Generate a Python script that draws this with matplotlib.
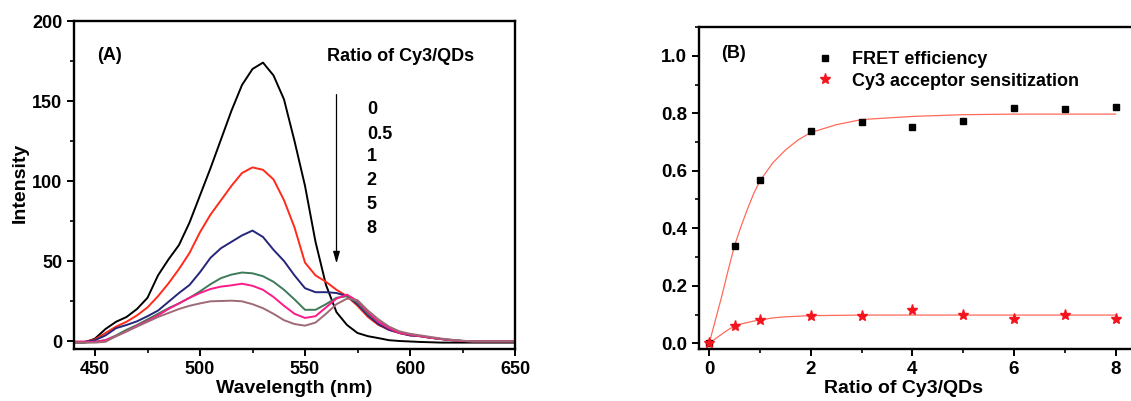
import numpy as np
import matplotlib
matplotlib.use("Agg")
import matplotlib.pyplot as plt
from matplotlib.ticker import MultipleLocator

plt.rcParams['font.family'] = ['Liberation Sans', 'DejaVu Sans']
plt.rcParams['font.weight'] = 'bold'

# ---- panel A: emission spectra (5 nm steps) ----
wavelength = list(range(440, 655, 5))

ratio_0 = [-1, -1, 1.5, 7.5, 12, 15, 20, 27, 41, 51, 60, 74, 91, 108, 126, 144, 160, 170,
           174, 166, 151, 125, 97, 62, 35, 18, 10, 5, 3, 1.8, 0.5, 0, -0.3, -0.6, -0.8,
           -1, -1, -1, -1, -1, -1, -1, -1]
ratio_05 = [-0.5, -0.5, 1, 5, 9, 12, 16, 21, 28, 36, 45, 55, 68, 79, 88, 97, 105, 108.5,
            107, 101, 88, 71, 49, 41, 37, 32, 28, 22, 15, 10, 7, 5, 3.5, 3, 2, 1.2, 0.5,
            0, -0.2, -0.2, -0.2, -0.2, -0.2]
ratio_1 = [-0.5, -0.5, 0.5, 3.5, 8, 10, 12.3, 15.5, 19, 24.5, 30, 35, 43, 52, 58, 62, 66,
           69, 65, 57, 50, 41, 33, 30.5, 30.5, 30, 28, 23, 16, 10.5, 7, 5, 3.5, 3, 2,
           1.2, 0.5, 0, -0.2, -0.2, -0.2, -0.2, -0.2]
ratio_2 = [-0.5, -1, -0.5, 0.5, 3.5, 7, 10, 13.5, 17, 20.5, 23.5, 27, 31, 35.5, 39.3,
           41.5, 42.8, 42.3, 40.5, 37, 32, 26, 19.5, 19.5, 23, 27, 28, 24, 17, 12, 8, 5,
           4, 3, 2, 1.2, 0.5, 0, -0.2, -0.2, -0.2, -0.2, -0.2]
ratio_5 = [-0.5, -0.5, -0.5, 0.5, 3, 6, 9.5, 12.5, 16, 20, 23.5, 27, 30, 32.5, 34, 34.8,
           35.8, 34.5, 32, 27.5, 22, 17, 14.4, 15.5, 21, 26.5, 29, 25, 18, 12, 8, 5, 4,
           3, 2, 1.2, 0.5, 0, -0.2, -0.2, -0.2, -0.2, -0.2]
ratio_8 = [-1, -1, -1, -0.5, 3, 6, 9, 12, 15, 17.5, 20, 22, 23.5, 24.8, 25, 25.2, 24.8,
           23, 20.5, 17, 13, 10.6, 9.6, 11.5, 17, 23, 26.5, 25.5, 19, 13.5, 9, 6, 4.5,
           3.5, 2.5, 1.5, 0.8, 0.2, -0.2, -0.2, -0.2, -0.2, -0.2]

spectra = [ratio_0, ratio_05, ratio_1, ratio_2, ratio_5, ratio_8]
spec_colors = ['black', '#ff2a1a', '#25257a', '#3e7a5a', '#ff1a8a', '#9e6a75']
ratio_labels = ['0', '0.5', '1', '2', '5', '8']

# ---- panel B: efficiency vs ratio ----
ratio = [0, 0.5, 1, 2, 3, 4, 5, 6, 7, 8]
fret_eff = [0.0, 0.338, 0.567, 0.737, 0.769, 0.751, 0.774, 0.819, 0.815, 0.821]
cy3_sens = [0.0, 0.060, 0.081, 0.096, 0.095, 0.117, 0.098, 0.086, 0.098, 0.086]

# fitted curves
fit_x = [0, 0.125, 0.25, 0.375, 0.5, 0.625, 0.75, 0.875, 1, 1.25, 1.5, 1.75, 2, 2.5,
         3, 4, 5, 6, 7, 8]
fret_fit = [0, 0.082, 0.165, 0.255, 0.34, 0.405, 0.465, 0.52, 0.565, 0.627, 0.672,
            0.707, 0.733, 0.76, 0.778, 0.789, 0.795, 0.797, 0.797, 0.797]
cy3_fit = [0, 0.016, 0.032, 0.047, 0.06, 0.067, 0.072, 0.077, 0.081, 0.088, 0.092,
           0.094, 0.096, 0.097, 0.098, 0.098, 0.098, 0.098, 0.098, 0.098]

W, H = 1131, 401
fig = plt.figure(figsize=(W / 100, H / 100), dpi=100)
axA = fig.add_axes([74 / W, 1 - 349 / H, (515 - 74) / W, (349 - 21) / H])
axB = fig.add_axes([699 / W, 1 - 349 / H, (1141 - 699) / W, (349 - 27) / H])

for ax in (axA, axB):
    for s in ax.spines.values():
        s.set_linewidth(1.7)
    ax.tick_params(which='major', direction='out', length=5, width=1.4, pad=3.5,
                   top=False, right=False)
    ax.tick_params(which='minor', direction='out', length=3, width=1.2,
                   top=False, right=False)

# panel A
for ys, c in zip(spectra, spec_colors):
    axA.plot(wavelength, ys, color=c, lw=1.4)
axA.set_xlim(440, 650)
axA.set_ylim(-5, 200)
axA.xaxis.set_major_locator(MultipleLocator(50))
axA.xaxis.set_minor_locator(MultipleLocator(25))
axA.yaxis.set_major_locator(MultipleLocator(50))
axA.yaxis.set_minor_locator(MultipleLocator(25))
axA.tick_params(labelsize=13)
axA.set_xlabel('Wavelength (nm)', fontsize=14, fontweight='bold')
axA.set_ylabel('Intensity', fontsize=14, fontweight='bold')
axA.xaxis.set_label_coords(0.5, -0.095)
axA.yaxis.set_label_coords(-0.103, 0.506)

axA.text(0.052, 0.896, '(A)', transform=axA.transAxes, fontsize=13,
         fontweight='bold', va='center', ha='left')
axA.text(0.574, 0.891, 'Ratio of Cy3/QDs', transform=axA.transAxes, fontsize=13,
         fontweight='bold', va='center', ha='left')
label_y = [0.729, 0.655, 0.586, 0.513, 0.442, 0.368]
for lab, yy in zip(ratio_labels, label_y):
    axA.text(0.664, yy, lab, transform=axA.transAxes, fontsize=13,
             fontweight='bold', va='center', ha='left')
axA.annotate('', xy=(565, 48.5), xytext=(565, 154),
             arrowprops=dict(arrowstyle='-|>,head_length=0.7,head_width=0.2',
                             color='black', lw=0.9, mutation_scale=10,
                             shrinkA=0, shrinkB=0))

# panel B
axB.plot(fit_x, fret_fit, color='#ff6a5a', lw=0.9)
axB.plot(fit_x, cy3_fit, color='#ff6a5a', lw=0.9)
axB.plot(ratio, fret_eff, 's', color='black', ms=5, label='FRET efficiency')
axB.plot(ratio, cy3_sens, '*', color='#f5141e', ms=8,
         label='Cy3 acceptor sensitization')
axB.set_xlim(-0.2, 8.5)
axB.set_ylim(-0.02, 1.1)
axB.xaxis.set_major_locator(MultipleLocator(2))
axB.xaxis.set_minor_locator(MultipleLocator(1))
axB.yaxis.set_major_locator(MultipleLocator(0.2))
axB.yaxis.set_minor_locator(MultipleLocator(0.1))
axB.yaxis.set_major_formatter(matplotlib.ticker.FormatStrFormatter('%.1f'))
axB.tick_params(labelsize=13.5)
axB.set_xlabel('Ratio of Cy3/QDs', fontsize=14, fontweight='bold')
axB.xaxis.set_label_coords(0.463, -0.095)
axB.text(0.24, 1.007, '(B)', fontsize=13, fontweight='bold', va='center', ha='left')
axB.legend(loc='upper left', bbox_to_anchor=(0.2647, 0.9255), frameon=False,
           handlelength=1.0, handletextpad=1.0, borderpad=0,
           borderaxespad=0, labelspacing=0.25, numpoints=1,
           prop={'weight': 'bold', 'size': 13})

fig.savefig('out.png', dpi=100)
